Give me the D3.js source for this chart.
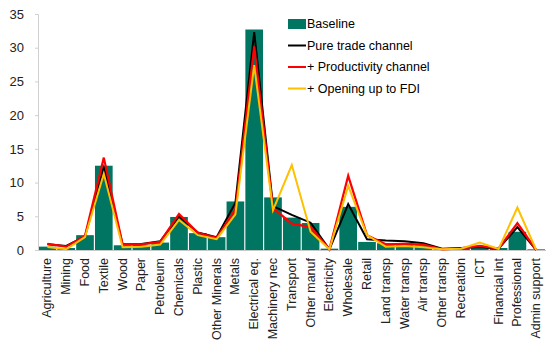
<!DOCTYPE html>
<html>
<head>
<meta charset="utf-8">
<script src="https://cdn.jsdelivr.net/npm/d3@7"></script>
<style>
  body { margin: 0; background: #fff; }
  text { font-family: "Liberation Sans", Arial, sans-serif; }
</style>
</head>
<body>
<div id="chart"></div>
<script>
/* DATA */
const sectors = ["Agriculture", "Mining", "Food", "Textile", "Wood", "Paper", "Petroleum",
  "Chemicals", "Plastic", "Other Minerals", "Metals", "Electrical eq.", "Machinery nec",
  "Transport", "Other manuf", "Electricity", "Wholesale", "Retail", "Land transp",
  "Water transp", "Air transp", "Other transp", "Recreation", "ICT", "Financial int",
  "Professional", "Admin support"]

const baseline = [0.5, 0.3, 2.2, 12.5, 0.7, 0.8, 1.1, 4.9, 2.5, 1.9, 7.2, 32.7, 7.8,
  4.8, 4.0, 0.2, 6.4, 1.2, 1.0, 1.0, 0.7, 0.1, 0.2, 0.3, 0.3, 2.7, 0.1]
const pureTrade = [0.85, 0.6, 2.0, 12.2, 0.85, 0.9, 1.3, 5.0, 2.6, 1.9, 7.0, 32.3, 6.5,
  5.2, 4.05, 0.1, 6.8, 1.6, 1.4, 1.3, 1.0, 0.2, 0.3, 0.45, 0.2, 3.4, 0]
const productivity = [0.9, 0.5, 2.1, 13.7, 0.8, 0.85, 1.2, 5.35, 2.55, 1.8, 6.0, 30.2, 6.2,
  3.9, 3.4, 0.1, 11.0, 2.2, 0.85, 0.9, 0.8, 0.1, 0.25, 0.6, 0.2, 4.0, 0]
const fdi = [0.45, 0.1, 1.9, 11.3, 0.4, 0.5, 0.8, 4.45, 2.2, 1.6, 5.3, 27.4, 5.9,
  12.6, 2.7, 0.1, 9.5, 2.2, 0.5, 0.6, 0.4, 0.1, 0.2, 1.1, 0.15, 6.3, 0]

const yTicks = [0, 5, 10, 15, 20, 25, 30, 35]

/* CONSTANTS */
const width = 546, height = 343
const margin = {top: 14, right: 0, bottom: 93, left: 38}

const svg = d3.select("#chart").append("svg")
  .attr("width", width)
  .attr("height", height)

/* SCALES */
const xScale = d3.scaleBand()
  .domain(sectors)
  .range([margin.left, 545.6])
  .paddingInner(0.06)
  .paddingOuter(0.03)

const yScale = d3.scaleLinear()
  .domain([0, 35])
  .range([height - margin.bottom, margin.top])

// bars
svg.selectAll("rect.bar")
  .data(sectors)
  .join("rect")
  .attr("class", "bar")
  .attr("x", d => xScale(d))
  .attr("y", (d, i) => yScale(baseline[i]))
  .attr("width", xScale.bandwidth())
  .attr("height", (d, i) => yScale(0) - yScale(baseline[i]))
  .attr("fill", "#007561")

/* AXES */
const yAxis = d3.axisLeft(yScale).tickValues(yTicks).tickSize(3).tickPadding(11)
const gy = svg.append("g")
  .attr("transform", `translate(${margin.left},0)`)
  .call(yAxis)
gy.select(".domain").attr("stroke", "#d0d0d0")
gy.selectAll(".tick line").attr("stroke", "#d0d0d0")
gy.selectAll("text").attr("font-size", 13).attr("fill", "#222")
  .attr("font-family", "Liberation Sans, Arial, sans-serif")

const xAxis = d3.axisBottom(xScale).tickSize(0).tickPadding(0)
const gx = svg.append("g")
  .attr("transform", `translate(0,${yScale(0)})`)
  .call(xAxis)
gx.select(".domain").attr("stroke", "#c8c8c8")
gx.selectAll("text")
  .attr("font-size", 12.5)
  .attr("fill", "#222")
  .attr("font-family", "Liberation Sans, Arial, sans-serif")
  .attr("text-anchor", "end")
  .attr("dy", null)
  .attr("transform", "translate(4,8) rotate(-90)")

/* LINES */
const line = vals => d3.line()
  .x((d, i) => xScale(sectors[i]) + xScale.bandwidth() / 2)
  .y(d => yScale(d))(vals)

const series = [
  {name: "Pure trade channel", values: pureTrade, color: "#000000", w: 2},
  {name: "+ Productivity channel", values: productivity, color: "#ff0000", w: 2.2},
  {name: "+ Opening up to FDI", values: fdi, color: "#ffc000", w: 2}
]

svg.selectAll("path.series")
  .data(series)
  .join("path")
  .attr("class", "series")
  .attr("d", d => line(d.values))
  .attr("fill", "none")
  .attr("stroke", d => d.color)
  .attr("stroke-width", d => d.w)
  .attr("stroke-linejoin", "miter")

/* LEGEND */
const legend = svg.append("g").attr("transform", "translate(288,24)")
legend.append("rect")
  .attr("x", 0).attr("y", -5)
  .attr("width", 18).attr("height", 10)
  .attr("fill", "#007561")
legend.append("text")
  .attr("x", 19).attr("y", 0).attr("dy", "0.35em")
  .attr("font-size", 12.5).attr("fill", "#000")
  .text("Baseline")

const items = legend.selectAll("g.item")
  .data(series)
  .join("g")
  .attr("class", "item")
  .attr("transform", (d, i) => `translate(0,${21.5 * (i + 1)})`)
items.append("line")
  .attr("x1", 0).attr("x2", 18)
  .attr("stroke", d => d.color)
  .attr("stroke-width", 2)
items.append("text")
  .attr("x", 19).attr("dy", "0.35em")
  .attr("font-size", 12.5).attr("fill", "#000")
  .text(d => d.name)
</script>
</body>
</html>
